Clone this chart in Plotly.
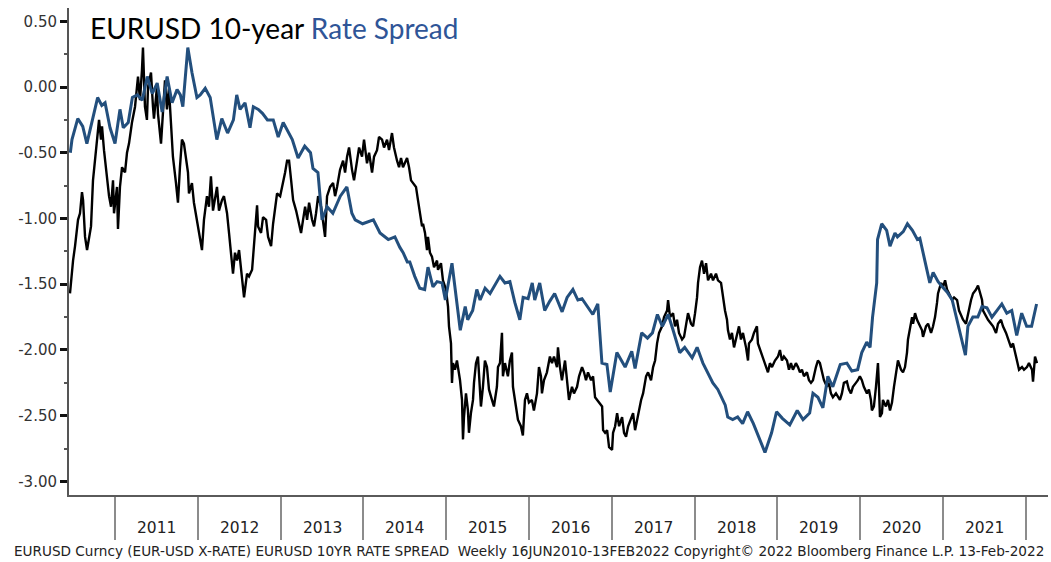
import plotly.graph_objects as go
import pandas as pd

# ---- data (decimal year, value) ----
spread_points = [
    (2010.46, -0.50), (2010.48, -0.40), (2010.55, -0.24), (2010.61, -0.30), (2010.66, -0.43),
    (2010.72, -0.27), (2010.79, -0.08), (2010.84, -0.14), (2010.88, -0.12), (2010.94, -0.31),
    (2011.00, -0.43), (2011.06, -0.17), (2011.10, -0.31), (2011.16, -0.27), (2011.21, -0.08),
    (2011.27, -0.06), (2011.33, -0.10), (2011.39, 0.08), (2011.45, -0.05), (2011.51, 0.03),
    (2011.57, -0.19), (2011.63, 0.08), (2011.69, -0.12), (2011.75, -0.02), (2011.79, -0.06),
    (2011.82, -0.15), (2011.88, 0.30), (2011.93, 0.11), (2011.99, -0.08), (2012.03, -0.06),
    (2012.09, -0.01), (2012.15, -0.08), (2012.23, -0.40), (2012.29, -0.24), (2012.36, -0.35),
    (2012.43, -0.25), (2012.47, -0.06), (2012.51, -0.17), (2012.57, -0.12), (2012.63, -0.31),
    (2012.67, -0.15), (2012.73, -0.17), (2012.78, -0.20), (2012.84, -0.25), (2012.91, -0.25),
    (2012.97, -0.38), (2013.03, -0.27), (2013.14, -0.40), (2013.21, -0.54), (2013.29, -0.45),
    (2013.36, -0.50), (2013.39, -0.62), (2013.45, -0.65), (2013.50, -1.01), (2013.56, -0.91),
    (2013.63, -0.96), (2013.72, -0.83), (2013.80, -0.76), (2013.86, -0.96), (2013.90, -1.01),
    (2013.99, -1.04), (2014.12, -1.01), (2014.20, -1.11), (2014.30, -1.16), (2014.38, -1.14),
    (2014.44, -1.22), (2014.48, -1.26), (2014.53, -1.33), (2014.56, -1.33), (2014.62, -1.44),
    (2014.68, -1.53), (2014.74, -1.54), (2014.78, -1.37), (2014.84, -1.52), (2014.89, -1.48),
    (2014.95, -1.49), (2014.99, -1.62), (2015.07, -1.34), (2015.13, -1.64), (2015.17, -1.85),
    (2015.23, -1.67), (2015.26, -1.77), (2015.32, -1.70), (2015.37, -1.54), (2015.41, -1.62),
    (2015.47, -1.53), (2015.53, -1.57), (2015.59, -1.51), (2015.65, -1.44), (2015.71, -1.49),
    (2015.77, -1.48), (2015.83, -1.64), (2015.89, -1.77), (2015.93, -1.60), (2015.99, -1.61),
    (2016.04, -1.49), (2016.07, -1.62), (2016.13, -1.49), (2016.19, -1.70), (2016.25, -1.63),
    (2016.31, -1.57), (2016.40, -1.71), (2016.46, -1.60), (2016.53, -1.54), (2016.59, -1.62),
    (2016.64, -1.61), (2016.70, -1.67), (2016.77, -1.73), (2016.83, -1.65), (2016.88, -2.10),
    (2016.94, -2.11), (2016.98, -2.32), (2017.06, -2.02), (2017.16, -2.13), (2017.24, -2.01),
    (2017.28, -2.14), (2017.36, -1.87), (2017.43, -1.91), (2017.49, -1.87), (2017.55, -1.73),
    (2017.61, -1.82), (2017.68, -1.73), (2017.74, -1.85), (2017.82, -2.02), (2017.88, -1.98),
    (2017.97, -2.06), (2018.03, -1.98), (2018.10, -2.10), (2018.22, -2.25), (2018.28, -2.30),
    (2018.37, -2.42), (2018.40, -2.51), (2018.46, -2.53), (2018.52, -2.51), (2018.58, -2.56),
    (2018.64, -2.47), (2018.71, -2.56), (2018.77, -2.66), (2018.85, -2.78), (2018.93, -2.63),
    (2018.99, -2.47), (2019.06, -2.52), (2019.15, -2.57), (2019.24, -2.46), (2019.31, -2.53),
    (2019.39, -2.48), (2019.43, -2.33), (2019.49, -2.36), (2019.55, -2.44), (2019.61, -2.20),
    (2019.67, -2.28), (2019.76, -2.11), (2019.84, -2.10), (2019.90, -2.16), (2019.97, -2.15),
    (2020.02, -2.02), (2020.08, -1.94), (2020.12, -1.98), (2020.15, -1.75), (2020.20, -1.49),
    (2020.21, -1.16), (2020.26, -1.04), (2020.32, -1.09), (2020.36, -1.21), (2020.42, -1.11),
    (2020.45, -1.14), (2020.52, -1.10), (2020.57, -1.04), (2020.63, -1.09), (2020.69, -1.16),
    (2020.72, -1.15), (2020.78, -1.32), (2020.84, -1.49), (2020.88, -1.41), (2020.94, -1.48),
    (2020.99, -1.52), (2021.05, -1.56), (2021.11, -1.62), (2021.17, -1.77), (2021.23, -1.92),
    (2021.27, -2.04), (2021.30, -1.82), (2021.36, -1.75), (2021.42, -1.75), (2021.47, -1.67),
    (2021.53, -1.68), (2021.59, -1.75), (2021.65, -1.70), (2021.71, -1.65), (2021.77, -1.72),
    (2021.83, -1.70), (2021.89, -1.89), (2021.95, -1.72), (2022.01, -1.82), (2022.07, -1.82),
    (2022.13, -1.65),
]

eurusd_points = [
    (2010.456, -1.57), (2010.481, -1.37), (2010.493, -1.32), (2010.517, -1.21), (2010.553, -1.01),
    (2010.577, -0.96), (2010.601, -0.80), (2010.614, -0.86), (2010.638, -1.14), (2010.662, -1.24),
    (2010.686, -1.14), (2010.710, -1.06), (2010.734, -0.71), (2010.771, -0.48), (2010.795, -0.33),
    (2010.807, -0.25), (2010.831, -0.40), (2010.843, -0.30), (2010.867, -0.48), (2010.903, -0.68),
    (2010.928, -0.83), (2010.952, -0.91), (2010.976, -0.71), (2010.988, -0.96), (2011.024, -0.76),
    (2011.036, -1.08), (2011.060, -0.76), (2011.085, -0.61), (2011.121, -0.65), (2011.145, -0.50),
    (2011.169, -0.43), (2011.205, -0.27), (2011.242, -0.15), (2011.278, 0.08), (2011.302, -0.10),
    (2011.326, 0.13), (2011.338, 0.30), (2011.362, -0.15), (2011.386, -0.25), (2011.399, 0.00),
    (2011.435, 0.11), (2011.459, -0.15), (2011.471, -0.24), (2011.507, 0.00), (2011.519, -0.20),
    (2011.556, -0.43), (2011.580, -0.15), (2011.604, 0.05), (2011.628, -0.17), (2011.652, -0.01),
    (2011.676, -0.27), (2011.700, -0.53), (2011.737, -0.73), (2011.761, -0.88), (2011.785, -0.61),
    (2011.809, -0.40), (2011.833, -0.43), (2011.857, -0.56), (2011.882, -0.65), (2011.894, -0.81),
    (2011.930, -0.73), (2011.954, -0.88), (2011.990, -1.01), (2012.027, -1.14), (2012.051, -1.24),
    (2012.075, -1.01), (2012.111, -0.83), (2012.135, -0.91), (2012.159, -0.68), (2012.184, -0.94),
    (2012.232, -0.76), (2012.256, -0.94), (2012.292, -0.86), (2012.316, -0.83), (2012.353, -0.96),
    (2012.377, -1.11), (2012.401, -1.29), (2012.425, -1.42), (2012.449, -1.26), (2012.473, -1.32),
    (2012.498, -1.24), (2012.534, -1.47), (2012.558, -1.60), (2012.594, -1.42), (2012.618, -1.44),
    (2012.655, -1.39), (2012.679, -1.19), (2012.715, -0.90), (2012.727, -1.06), (2012.763, -1.11),
    (2012.787, -0.99), (2012.824, -1.01), (2012.848, -1.14), (2012.884, -1.21), (2012.908, -1.04),
    (2012.932, -0.94), (2012.956, -0.81), (2012.993, -0.83), (2013.029, -0.73), (2013.053, -0.65),
    (2013.077, -0.56), (2013.101, -0.56), (2013.126, -0.71), (2013.150, -0.86), (2013.186, -0.94),
    (2013.210, -1.01), (2013.246, -1.11), (2013.270, -1.01), (2013.295, -0.91), (2013.319, -1.01),
    (2013.343, -0.88), (2013.379, -1.01), (2013.403, -1.06), (2013.427, -0.96), (2013.452, -0.83),
    (2013.488, -0.91), (2013.512, -1.01), (2013.536, -1.14), (2013.560, -0.83), (2013.597, -0.76),
    (2013.633, -0.73), (2013.657, -0.83), (2013.681, -0.76), (2013.717, -0.63), (2013.754, -0.56),
    (2013.778, -0.65), (2013.802, -0.53), (2013.826, -0.46), (2013.862, -0.63), (2013.886, -0.71),
    (2013.923, -0.56), (2013.947, -0.46), (2013.983, -0.53), (2014.007, -0.40), (2014.043, -0.58),
    (2014.068, -0.50), (2014.104, -0.65), (2014.128, -0.53), (2014.164, -0.48), (2014.188, -0.38),
    (2014.225, -0.40), (2014.249, -0.46), (2014.285, -0.40), (2014.309, -0.48), (2014.345, -0.35),
    (2014.369, -0.46), (2014.406, -0.56), (2014.430, -0.61), (2014.454, -0.54), (2014.478, -0.61),
    (2014.527, -0.54), (2014.551, -0.61), (2014.575, -0.71), (2014.599, -0.73), (2014.635, -0.76),
    (2014.659, -0.86), (2014.683, -0.96), (2014.708, -1.06), (2014.720, -1.04), (2014.744, -1.11),
    (2014.768, -1.24), (2014.780, -1.14), (2014.804, -1.26), (2014.828, -1.29), (2014.853, -1.37),
    (2014.889, -1.32), (2014.901, -1.39), (2014.937, -1.34), (2014.961, -1.47), (2014.997, -1.54),
    (2015.022, -1.67), (2015.034, -1.82), (2015.058, -1.95), (2015.070, -2.25), (2015.082, -2.10),
    (2015.106, -2.15), (2015.130, -2.08), (2015.142, -2.13), (2015.167, -2.23), (2015.191, -2.38),
    (2015.203, -2.68), (2015.215, -2.51), (2015.239, -2.33), (2015.263, -2.46), (2015.275, -2.63),
    (2015.299, -2.48), (2015.324, -2.38), (2015.336, -2.25), (2015.360, -2.10), (2015.384, -2.05),
    (2015.396, -2.20), (2015.420, -2.43), (2015.444, -2.28), (2015.468, -2.08), (2015.493, -2.13),
    (2015.517, -2.30), (2015.553, -2.38), (2015.577, -2.43), (2015.613, -2.28), (2015.626, -2.13),
    (2015.650, -2.10), (2015.674, -1.87), (2015.686, -2.20), (2015.710, -2.10), (2015.746, -2.20),
    (2015.770, -2.08), (2015.795, -2.02), (2015.807, -2.28), (2015.843, -2.43), (2015.867, -2.53),
    (2015.903, -2.58), (2015.927, -2.65), (2015.952, -2.38), (2015.976, -2.33), (2016.000, -2.40),
    (2016.036, -2.38), (2016.060, -2.46), (2016.097, -2.33), (2016.121, -2.13), (2016.145, -2.20),
    (2016.157, -2.33), (2016.181, -2.23), (2016.217, -2.17), (2016.229, -2.13), (2016.253, -2.05),
    (2016.278, -2.10), (2016.302, -2.05), (2016.338, -2.13), (2016.350, -1.98), (2016.374, -2.13),
    (2016.398, -2.23), (2016.435, -2.08), (2016.459, -2.23), (2016.483, -2.38), (2016.519, -2.28),
    (2016.543, -2.33), (2016.580, -2.28), (2016.604, -2.20), (2016.640, -2.13), (2016.664, -2.17),
    (2016.688, -2.23), (2016.712, -2.17), (2016.749, -2.23), (2016.773, -2.20), (2016.797, -2.36),
    (2016.821, -2.38), (2016.845, -2.40), (2016.882, -2.43), (2016.894, -2.61), (2016.918, -2.63),
    (2016.942, -2.61), (2016.966, -2.74), (2017.002, -2.76), (2017.014, -2.63), (2017.039, -2.58),
    (2017.063, -2.48), (2017.087, -2.58), (2017.123, -2.51), (2017.147, -2.63), (2017.171, -2.66),
    (2017.196, -2.58), (2017.232, -2.51), (2017.256, -2.48), (2017.280, -2.61), (2017.304, -2.53),
    (2017.328, -2.46), (2017.353, -2.38), (2017.377, -2.33), (2017.413, -2.20), (2017.437, -2.17),
    (2017.473, -2.23), (2017.498, -2.13), (2017.522, -2.08), (2017.546, -1.95), (2017.570, -1.87),
    (2017.606, -1.82), (2017.630, -1.75), (2017.667, -1.70), (2017.679, -1.62), (2017.703, -1.75),
    (2017.739, -1.72), (2017.763, -1.82), (2017.787, -1.77), (2017.811, -1.87), (2017.848, -1.92),
    (2017.872, -1.90), (2017.896, -1.82), (2017.920, -1.72), (2017.956, -1.80), (2017.981, -1.82),
    (2018.005, -1.72), (2018.029, -1.60), (2018.041, -1.49), (2018.065, -1.37), (2018.089, -1.32),
    (2018.114, -1.42), (2018.138, -1.34), (2018.162, -1.47), (2018.198, -1.42), (2018.222, -1.47),
    (2018.258, -1.42), (2018.282, -1.47), (2018.319, -1.49), (2018.343, -1.60), (2018.367, -1.70),
    (2018.391, -1.77), (2018.403, -1.85), (2018.427, -1.92), (2018.451, -1.87), (2018.476, -1.98),
    (2018.512, -1.87), (2018.536, -1.82), (2018.560, -1.92), (2018.584, -1.87), (2018.621, -1.98),
    (2018.645, -2.08), (2018.657, -1.95), (2018.693, -1.92), (2018.717, -1.87), (2018.753, -1.82),
    (2018.765, -1.95), (2018.802, -2.02), (2018.826, -2.05), (2018.862, -2.13), (2018.886, -2.17),
    (2018.910, -2.10), (2018.935, -2.13), (2018.971, -2.08), (2019.007, -2.05), (2019.031, -2.00),
    (2019.055, -2.08), (2019.079, -2.05), (2019.116, -2.08), (2019.140, -2.15), (2019.164, -2.10),
    (2019.188, -2.15), (2019.224, -2.10), (2019.249, -2.13), (2019.273, -2.17), (2019.297, -2.15),
    (2019.321, -2.20), (2019.357, -2.17), (2019.382, -2.23), (2019.406, -2.25), (2019.430, -2.23),
    (2019.466, -2.13), (2019.490, -2.08), (2019.514, -2.10), (2019.538, -2.17), (2019.563, -2.23),
    (2019.599, -2.28), (2019.623, -2.25), (2019.647, -2.33), (2019.671, -2.36), (2019.708, -2.33),
    (2019.732, -2.36), (2019.756, -2.38), (2019.780, -2.33), (2019.804, -2.25), (2019.840, -2.24),
    (2019.864, -2.30), (2019.889, -2.33), (2019.913, -2.28), (2019.949, -2.25), (2019.973, -2.23),
    (2019.997, -2.20), (2020.021, -2.23), (2020.045, -2.28), (2020.082, -2.33), (2020.106, -2.30),
    (2020.130, -2.38), (2020.142, -2.46), (2020.166, -2.43), (2020.191, -2.28), (2020.215, -2.10),
    (2020.227, -2.28), (2020.239, -2.51), (2020.263, -2.48), (2020.275, -2.38), (2020.311, -2.43),
    (2020.336, -2.38), (2020.360, -2.46), (2020.384, -2.40), (2020.408, -2.28), (2020.444, -2.13),
    (2020.456, -2.08), (2020.493, -2.15), (2020.517, -2.17), (2020.541, -2.13), (2020.565, -2.02),
    (2020.577, -1.92), (2020.601, -1.82), (2020.626, -1.75), (2020.638, -1.80), (2020.662, -1.72),
    (2020.686, -1.77), (2020.710, -1.80), (2020.746, -1.85), (2020.758, -1.90), (2020.794, -1.82),
    (2020.819, -1.80), (2020.855, -1.87), (2020.879, -1.82), (2020.903, -1.75), (2020.927, -1.64),
    (2020.939, -1.57), (2020.976, -1.49), (2021.000, -1.52), (2021.024, -1.47), (2021.048, -1.54),
    (2021.072, -1.57), (2021.108, -1.62), (2021.133, -1.60), (2021.169, -1.62), (2021.193, -1.70),
    (2021.229, -1.75), (2021.241, -1.77), (2021.277, -1.80), (2021.302, -1.72), (2021.338, -1.62),
    (2021.362, -1.57), (2021.398, -1.54), (2021.422, -1.51), (2021.446, -1.57), (2021.471, -1.62),
    (2021.483, -1.70), (2021.519, -1.75), (2021.543, -1.77), (2021.580, -1.80), (2021.604, -1.82),
    (2021.640, -1.87), (2021.664, -1.80), (2021.700, -1.77), (2021.724, -1.82), (2021.761, -1.87),
    (2021.785, -1.92), (2021.821, -1.98), (2021.845, -1.95), (2021.869, -2.02), (2021.893, -2.10),
    (2021.918, -2.15), (2021.954, -2.13), (2021.978, -2.15), (2022.014, -2.13), (2022.038, -2.10),
    (2022.075, -2.15), (2022.087, -2.24), (2022.111, -2.05), (2022.135, -2.10),
]

year_labels = list(range(2011, 2022))
year_bounds = list(range(2011, 2023))
y_ticks = [0.5, 0.0, -0.5, -1.0, -1.5, -2.0, -2.5, -3.0]
y_minor = [0.25, -0.25, -0.75, -1.25, -1.75, -2.25, -2.75]
x_window = (2010.444, 2022.268)
y_window = (-3.103, 0.601)

title_main = "EURUSD 10-year "
title_blue = "Rate Spread"
footer = ("EURUSD Curncy (EUR-USD X-RATE) EURUSD 10YR RATE SPREAD  Weekly "
          "16JUN2010-13FEB2022 Copyright\u00a9 2022 Bloomberg Finance L.P. 13-Feb-2022")


def to_date(t):
    y = int(t)
    start = pd.Timestamp(year=y, month=1, day=1)
    end = pd.Timestamp(year=y + 1, month=1, day=1)
    return start + (end - start) * (t - y)


BLUE = "#234f7d"
fig = go.Figure()

fig.add_trace(go.Scatter(
    x=[to_date(t) for t, _ in eurusd_points], y=[v for _, v in eurusd_points],
    mode="lines", line=dict(color="#000000", width=2.4), hoverinfo="skip", showlegend=False))

fig.add_trace(go.Scatter(
    x=[to_date(t) for t, _ in spread_points], y=[v for _, v in spread_points],
    mode="lines", line=dict(color=BLUE, width=3), hoverinfo="skip", showlegend=False))

fig.update_layout(
    width=1051, height=562,
    margin=dict(l=69, r=3, t=8, b=67),
    paper_bgcolor="white", plot_bgcolor="white",
    font=dict(family="DejaVu Sans", color="#222222"),
    showlegend=False,
)

fig.update_xaxes(
    type="date",
    range=[to_date(x_window[0]), to_date(x_window[1])],
    tickvals=[to_date(y) for y in year_bounds],
    ticks="outside", ticklen=43, tickwidth=1.5, tickcolor="#8c8c8c",
    showticklabels=False,
    showline=True, linecolor="#5a5a5a", linewidth=2,
    showgrid=False, zeroline=False,
)

fig.update_yaxes(
    range=list(y_window),
    tickvals=y_ticks, ticktext=[f"{v:.2f}" for v in y_ticks],
    ticks="outside", ticklen=7, tickwidth=3, tickcolor="#111111",
    tickfont=dict(family="DejaVu Sans", size=15, color="#333333"),
    minor=dict(tickvals=y_minor, ticks="outside", ticklen=3, tickwidth=1.5, tickcolor="#555555"),
    showline=True, linecolor="#555555", linewidth=2,
    showgrid=False, zeroline=False,
)

for yr in year_labels:
    fig.add_annotation(x=to_date(yr + 0.5), y=-0.068, xref="x", yref="paper",
                       text=str(yr), showarrow=False, yanchor="middle", xanchor="center",
                       font=dict(family="DejaVu Sans", size=15.5, color="#222222"))

fig.add_annotation(x=-0.0582, y=-0.115, xref="paper", yref="paper", text=footer,
                   showarrow=False, xanchor="left", yanchor="middle",
                   font=dict(family="DejaVu Sans", size=13.6, color="#222222"))

fig.add_annotation(x=0.0194, y=0.959, xref="paper", yref="paper",
                   text=f"{title_main}<span style='color:#2f5597'>{title_blue}</span>",
                   showarrow=False, xanchor="left", yanchor="middle",
                   font=dict(family="Lato", size=28, color="#000000"))

fig.write_html("out.html", config={"displayModeBar": False},
               post_script="document.body.style.margin='0';document.body.style.overflow='hidden';")
